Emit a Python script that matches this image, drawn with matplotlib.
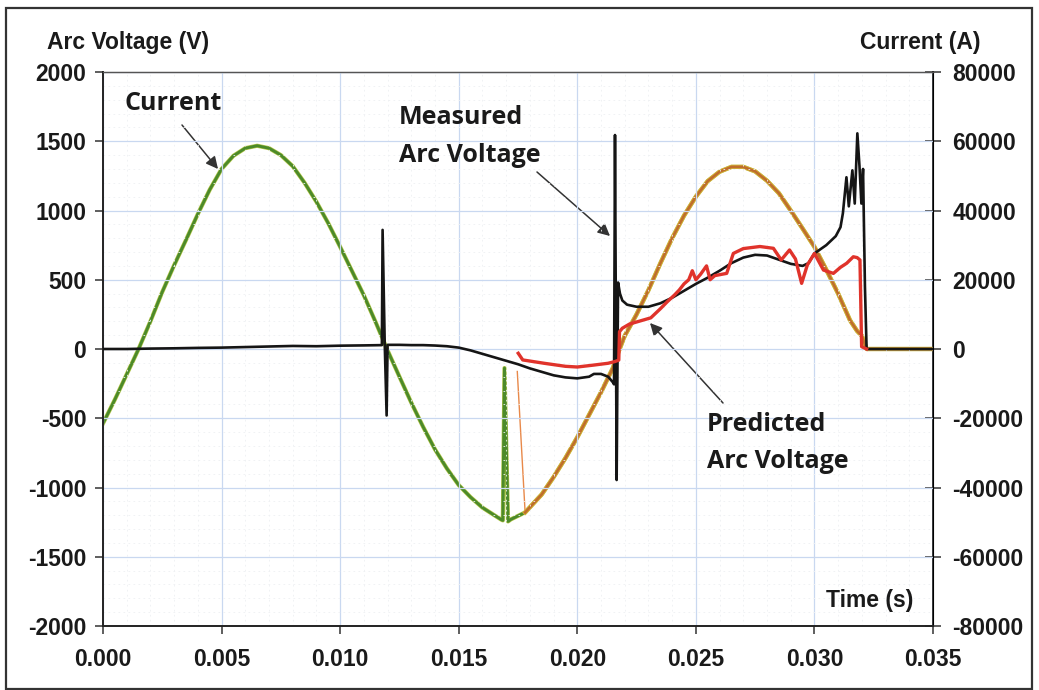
import matplotlib
matplotlib.use("Agg")
import matplotlib.pyplot as plt
from matplotlib.patches import Rectangle, FancyArrowPatch
from matplotlib.font_manager import FontProperties
from matplotlib.ticker import MultipleLocator, FormatStrFormatter

plt.rcParams['axes.unicode_minus'] = False

# measured current (A), right axis
t_cur = [0.0, 0.0005, 0.001, 0.0015, 0.002, 0.0025, 0.003, 0.0035, 0.004, 0.0045,
         0.005, 0.0055, 0.006, 0.0065, 0.007, 0.0075, 0.008, 0.0085, 0.009, 0.0095,
         0.010, 0.0105, 0.011, 0.0115, 0.012, 0.0125, 0.013, 0.0135, 0.014, 0.0145,
         0.015, 0.0155, 0.016, 0.0165, 0.0168, 0.01686, 0.01693, 0.01708, 0.0172, 0.0175,
         0.0178, 0.0185, 0.019, 0.0195, 0.020, 0.0205, 0.021, 0.0215, 0.0217, 0.022,
         0.0225, 0.023, 0.0235, 0.024, 0.0245, 0.025, 0.0255, 0.026, 0.0265, 0.027,
         0.0275, 0.028, 0.0285, 0.029, 0.0295, 0.030, 0.0305, 0.031, 0.0315, 0.0318,
         0.0320, 0.0322, 0.035]
i_cur = [-21500, -14600, -7300, 0, 8000, 16500, 24200, 31500, 39000, 46000,
         52000, 55800, 58000, 58700, 58000, 56000, 52800, 48000, 42500, 36300,
         29500, 22500, 15500, 7700, -400, -8000, -15500, -22500, -29000, -34500,
         -39300, -42800, -45800, -48000, -49300, -49500, -5500, -49800, -49200, -48200,
         -47200, -42000, -37000, -31500, -25500, -19000, -12500, -5500, -1500, 3800,
         10000, 17000, 24700, 32000, 38500, 44000, 48500, 51200, 52600, 52600,
         51300, 48600, 45000, 40000, 34800, 29500, 22900, 16000, 8300, 5200,
         3800, 0, 0]

# predicted current (A), starts at 0.0175
t_pcur = [0.01747, 0.0178, 0.0185, 0.019, 0.0195, 0.020, 0.0205, 0.021, 0.0215, 0.0217,
          0.022, 0.0225, 0.023, 0.0235, 0.024, 0.0245, 0.025, 0.0255, 0.026, 0.0265,
          0.027, 0.0275, 0.028, 0.0285, 0.029, 0.0295, 0.030, 0.0305, 0.031, 0.0315,
          0.0318, 0.0320, 0.0322, 0.035]
i_pcur = [-6500, -47200, -42000, -37000, -31500, -25500, -19000, -12500, -5500, -1500,
          3800, 10000, 17000, 24700, 32000, 38500, 44000, 48500, 51200, 52600,
          52600, 51300, 48600, 45000, 40000, 34800, 29500, 22900, 16000, 8300,
          5200, 3800, 0, 0]

# measured arc voltage (V), left axis
t_meas = [0.0, 0.001, 0.002, 0.003, 0.004, 0.005, 0.006, 0.007, 0.008, 0.009,
          0.010, 0.011, 0.01176, 0.01179, 0.01188, 0.01196, 0.0120, 0.0125, 0.013, 0.0135,
          0.014, 0.0145, 0.015, 0.0155, 0.016, 0.0165, 0.017, 0.0175, 0.018, 0.0185,
          0.019, 0.0195, 0.020, 0.0205, 0.0207, 0.021, 0.0213, 0.0215, 0.02155, 0.02159,
          0.02166, 0.02172, 0.0218, 0.0219, 0.0221, 0.0225, 0.023, 0.0235, 0.024, 0.0245,
          0.025, 0.0255, 0.026, 0.0265, 0.027, 0.0275, 0.028, 0.0285, 0.029, 0.0295,
          0.02975, 0.030, 0.0305, 0.0309, 0.0311, 0.0312, 0.03135, 0.03145, 0.0316, 0.0317,
          0.03181, 0.0319, 0.03198, 0.03205, 0.03213, 0.0322, 0.035]
v_meas = [0, 0, 3, 5, 8, 10, 14, 18, 22, 20,
          24, 26, 28, 860, 40, -480, 30, 30, 28, 28,
          25, 20, 10, -10, -35, -60, -85, -110, -140, -165,
          -190, -205, -212, -200, -180, -180, -200, -240, -255, 1545,
          -946, 480, 400, 350, 320, 305, 305, 330, 370, 420,
          470, 515, 565, 620, 660, 680, 675, 645, 615, 600,
          620, 690, 750, 815, 880, 980, 1240, 1030, 1290, 1050,
          1557, 1320, 1050, 1300, 450, 0, 0]

# predicted arc voltage (V)
t_pred = [0.01751, 0.0177, 0.0186, 0.0195, 0.0200, 0.0207, 0.0213, 0.0216, 0.02175, 0.02178,
          0.0219, 0.0222, 0.0226, 0.0231, 0.0235, 0.0238, 0.0241, 0.0243, 0.0245, 0.0247,
          0.02485, 0.0250, 0.0252, 0.02545, 0.0256, 0.0258, 0.0263, 0.02658, 0.027, 0.0277,
          0.02827, 0.0286, 0.02895, 0.0292, 0.02946, 0.0297, 0.0300, 0.03038, 0.0308, 0.0311,
          0.03136, 0.03164, 0.0318, 0.03192, 0.03199, 0.0322]
v_pred = [-31, -79, -103, -125, -130, -116, -103, -90, -80, 125,
          150, 180, 200, 225, 290, 342, 390, 426, 470, 500,
          565, 500, 540, 600, 500, 530, 546, 690, 725, 740,
          727, 643, 715, 650, 474, 606, 690, 570, 546, 590,
          619, 666, 660, 643, 17, 0]

W, H = 1039, 690


def px(x, y):
    return x / W, 1 - y / H


fig = plt.figure(figsize=(W / 100, H / 100), dpi=100)
ax = fig.add_axes([103 / W, 1 - 626 / H, (933 - 103) / W, (626 - 72) / H])
ax2 = ax.twinx()

ax.set_xlim(0, 0.035)
ax.set_ylim(-2000, 2000)
ax2.set_ylim(-80000, 80000)

ax.xaxis.set_major_locator(MultipleLocator(0.005))
ax.xaxis.set_minor_locator(MultipleLocator(0.001))
ax.yaxis.set_major_locator(MultipleLocator(500))
ax.yaxis.set_minor_locator(MultipleLocator(100))
ax.xaxis.set_major_formatter(FormatStrFormatter('%.3f'))
ax2.yaxis.set_major_locator(MultipleLocator(20000))

ax.grid(which='major', color='#c9d8f0', lw=0.9)
ax.grid(which='minor', color='#eef0f3', lw=0.6, ls=(0, (2, 4)))
ax.set_axisbelow(True)

tick_fp = FontProperties(family='Liberation Sans', weight='bold', size=16.5)
for lab in ax.get_xticklabels() + ax.get_yticklabels() + ax2.get_yticklabels():
    lab.set_fontproperties(tick_fp)
    lab.set_color('#1a1a1a')
ax.tick_params(which='major', direction='out', length=6, width=1.1, color='#333333', pad=6)
ax.tick_params(which='minor', length=0)
ax2.tick_params(which='major', direction='inout', length=12, width=1.1, color='#333333', pad=8)
ax.tick_params(axis='x', pad=10)

for s in ['left', 'bottom']:
    ax.spines[s].set_color('#222222')
    ax.spines[s].set_linewidth(1.4)
ax2.spines['right'].set_color('#222222')
ax2.spines['right'].set_linewidth(1.4)
for a in (ax, ax2):
    a.spines['top'].set_color('#555555')
    a.spines['top'].set_linewidth(0.9)
ax2.spines['left'].set_visible(False)
ax2.spines['bottom'].set_visible(False)

# current traces
ax2.plot(t_cur, i_cur, color='#b5c84a', lw=3.0, solid_joinstyle='round', zorder=2)
ax2.plot(t_cur, i_cur, color='#4c8a2a', lw=2.1, solid_joinstyle='round', zorder=3)
ax2.plot(t_pcur[:2], i_pcur[:2], color='#e8894a', lw=1.0, zorder=3)
ax2.plot(t_pcur[1:], i_pcur[1:], color='#d4b43a', lw=3.1, solid_joinstyle='round', zorder=4)
ax2.plot(t_pcur[1:], i_pcur[1:], color='#bf6e2c', lw=1.9, solid_joinstyle='round', zorder=5)

# arc voltage traces, drawn on top of the current axis
ax.set_zorder(ax2.get_zorder() + 1)
ax.patch.set_visible(False)
ax.plot(t_meas, v_meas, color='#151515', lw=1.9, zorder=6)
ax.plot(t_pred, v_pred, color='#e0332b', lw=2.4, zorder=7)

lbl = dict(family='Liberation Sans', weight='bold', size=16.5, color='#1a1a1a')
fig.text(*px(47, 42), 'Arc Voltage (V)', va='center', ha='left', **lbl)
fig.text(*px(981, 42), 'Current (A)', va='center', ha='right', **lbl)
fig.text(*px(913, 601), 'Time (s)', va='center', ha='right', **lbl)

note = dict(family='Open Sans', weight='bold', size=18, color='#1a1a1a', va='center', ha='left')
fig.text(*px(124, 104), 'Current', **note)
fig.text(*px(399, 117), 'Measured', **note)
fig.text(*px(399, 155), 'Arc Voltage', **note)
fig.text(*px(707, 424), 'Predicted', **note)
fig.text(*px(707, 462), 'Arc Voltage', **note)

arrow = dict(arrowstyle='-|>', color='#333333', lw=1.1, mutation_scale=18, shrinkA=0, shrinkB=0)
for tail, tip in [((182, 125), (218, 169)), ((537, 172), (610, 236)), ((723, 403), (650, 323))]:
    fig.add_artist(FancyArrowPatch(px(*tail), px(*tip), transform=fig.transFigure, **arrow))

fig.add_artist(Rectangle(px(6, 689), (1032 - 6) / W, (689 - 8) / H, transform=fig.transFigure,
                         fill=False, edgecolor='#333333', lw=1.6))

fig.savefig('out.png', dpi=100)
